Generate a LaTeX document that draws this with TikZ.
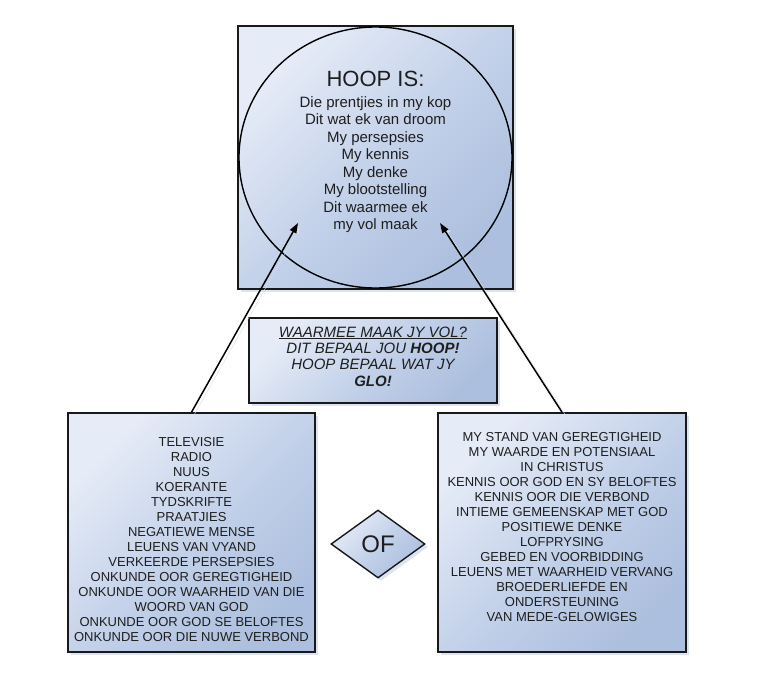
\documentclass[tikz,border=0pt]{standalone}
\usepackage{fontspec}
\setmainfont{Liberation Sans}
\usepackage{tikz}
\usetikzlibrary{shapes.geometric,arrows.meta,shadows}

\definecolor{panellight}{RGB}{230,236,247}
\definecolor{panelmid}{RGB}{196,210,234}
\definecolor{paneldark}{RGB}{172,191,222}
\definecolor{panelshadow}{RGB}{212,221,237}
\definecolor{inkgrey}{RGB}{30,30,30}

\begin{document}
\begin{tikzpicture}[x=1pt,y=-1pt,
    panel/.style={draw=black!90,line width=1.6pt,top color=panellight,bottom color=paneldark,middle color=panelmid,shading angle=45,
        drop shadow={shadow xshift=3pt,shadow yshift=-3pt,fill=panelshadow,opacity=0.8},inner sep=0pt},
    listtext/.style={text=inkgrey,align=center,inner sep=0pt,font=\fontsize{13}{15}\selectfont},
    link/.style={line width=1.5pt,-{Triangle[length=10pt,width=7pt]},
        preaction={draw=panelshadow,transform canvas={xshift=3pt,yshift=-2pt}}}]

    \useasboundingbox (0,0) rectangle (758,697);

    % top: square with circle
    \node[panel,minimum width=275pt,minimum height=263pt] (hoopbox) at (375.5,157.5) {};
    \node[draw,ellipse,line width=1.4pt,minimum width=273pt,minimum height=261pt] (hoopring) at (hoopbox.center) {};
    \node[listtext,anchor=north,font=\fontsize{15}{17.5}\selectfont] (hooplist) at ([yshift=-46pt]hoopbox.north)
        {{\fontsize{22}{24}\selectfont HOOP IS:}\\[3pt]
         Die prentjies in my kop\\ Dit wat ek van droom\\ My persepsies\\ My kennis\\
         My denke\\ My blootstelling\\ Dit waarmee ek\\ my vol maak};

    % middle box
    \node[panel,minimum width=248pt,minimum height=85pt] (volbox) at (373,360.5) {};
    \node[listtext,font=\itshape\fontsize{15}{16.4}\selectfont] (voltext) at ([yshift=4pt]volbox.center)
        {\underline{WAARMEE MAAK JY VOL?}\\ DIT BEPAAL JOU \textbf{HOOP!}\\ HOOP BEPAAL WAT JY\\ \textbf{GLO!}};

    % bottom boxes
    \node[panel,minimum width=247pt,minimum height=239pt] (badbox) at (191.5,532.5) {};
    \node[listtext] (badlist) at ([yshift=-7pt]badbox.center)
        {TELEVISIE\\ RADIO\\ NUUS\\ KOERANTE\\ TYDSKRIFTE\\ PRAATJIES\\ NEGATIEWE MENSE\\
         LEUENS VAN VYAND\\ VERKEERDE PERSEPSIES\\ ONKUNDE OOR GEREGTIGHEID\\
         ONKUNDE OOR WAARHEID VAN DIE\\ WOORD VAN GOD\\ ONKUNDE OOR GOD SE BELOFTES\\
         ONKUNDE OOR DIE NUWE VERBOND};

    \node[panel,minimum width=248pt,minimum height=239pt] (goodbox) at (562,532.5) {};
    \node[listtext] (goodlist) at ([yshift=5.5pt]goodbox.center)
        {MY STAND VAN GEREGTIGHEID\\ MY WAARDE EN POTENSIAAL\\ IN CHRISTUS\\
         KENNIS OOR GOD EN SY BELOFTES\\ KENNIS OOR DIE VERBOND\\ INTIEME GEMEENSKAP MET GOD\\
         POSITIEWE DENKE\\ LOFPRYSING\\ GEBED EN VOORBIDDING\\ LEUENS MET WAARHEID VERVANG\\
         BROEDERLIEFDE EN\\ ONDERSTEUNING\\ VAN MEDE-GELOWIGES};

    \node[panel,diamond,aspect=1.38,line width=1.4pt,minimum width=94pt,minimum height=68pt,
        text=inkgrey,font=\fontsize{24}{24}\selectfont] (ofsign) at (378,544) {OF};

    % arrows into the circle
    \coordinate (badtip) at (298,223);
    \coordinate (goodtip) at (440,223);
    \draw[link] (badbox.north) -- (badtip);
    \draw[link] (goodbox.north) -- (goodtip);

\end{tikzpicture}
\end{document}
